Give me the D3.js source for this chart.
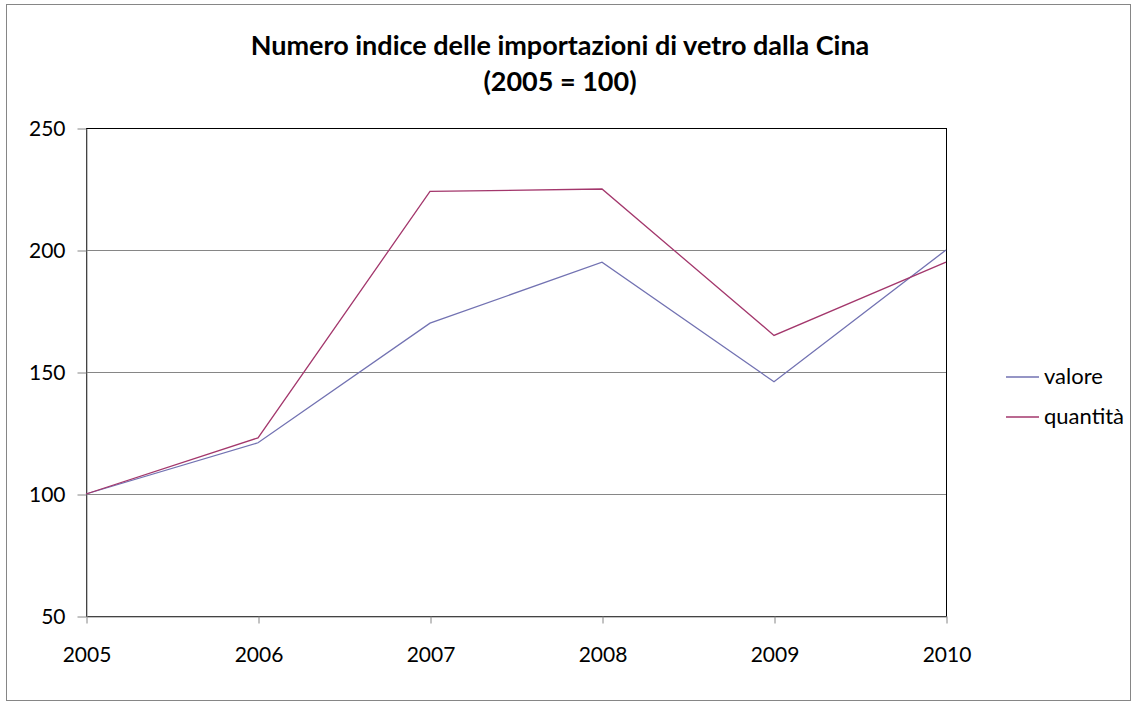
<!DOCTYPE html>
<meta charset="utf-8">
<style>
body { margin: 0; background: #fff; }
text { font-family: Lato, "Noto Sans", sans-serif; fill: #000; }
</style>
<svg width="1137" height="704"></svg>
<script src="https://d3js.org/d3.v7.min.js"></script>
<script>

var years = ["2005", "2006", "2007", "2008", "2009", "2010"];
var valore = [100, 121, 170, 195, 146, 200];
var quantita = [100, 123, 224, 225, 165, 195];
var yTicks = [50, 100, 150, 200, 250];
var seriesNames = ["valore", "quantità"];
var seriesColors = ["#7272b2", "#a3376c"];

var svg = d3.select("svg");

// chart border
svg.append("rect")
    .attr("x", 6.5).attr("y", 4.5)
    .attr("width", 1124).attr("height", 696)
    .attr("fill", "none")
    .attr("stroke", "#868686");

var plotLeft = 86, plotRight = 946, plotTop = 128, plotBottom = 616;

var x = d3.scalePoint().domain(years).range([plotLeft, plotRight]);
var y = d3.scaleLinear().domain([50, 250]).range([plotBottom, plotTop]);

// title
var title = svg.append("text")
    .attr("text-anchor", "middle")
    .style("font-weight", "bold")
    .style("font-size", "27px");
title.append("tspan").attr("x", 560).attr("y", 55).text("Numero indice delle importazioni di vetro dalla Cina");
title.append("tspan").attr("x", 560).attr("y", 91).text("(2005 = 100)");

// gridlines
svg.append("g").selectAll("line")
    .data(yTicks.slice(1))
    .enter().append("line")
    .attr("x1", plotLeft).attr("x2", plotRight)
    .attr("y1", function(d) { return Math.round(y(d)) + 0.5; })
    .attr("y2", function(d) { return Math.round(y(d)) + 0.5; })
    .attr("stroke", "#868686");

// plot area border (top and right show)
svg.append("rect")
    .attr("x", plotLeft + 0.5).attr("y", plotTop + 0.5)
    .attr("width", plotRight - plotLeft).attr("height", plotBottom - plotTop)
    .attr("fill", "none")
    .attr("stroke", "#000");

// y axis
var yAxis = svg.append("g")
    .attr("transform", "translate(" + (plotLeft + 0.5) + ",0.5)")
    .call(d3.axisLeft(y).tickValues(yTicks).tickSize(9).tickPadding(12).tickSizeOuter(0));
yAxis.select(".domain").attr("stroke", "#868686");
yAxis.selectAll(".tick line").attr("stroke", "#868686");
yAxis.selectAll("text").style("font-size", "21px").attr("fill", "#000")
    .style("font-family", "Lato, 'Noto Sans', sans-serif");

// x axis
var xAxis = svg.append("g")
    .attr("transform", "translate(0.5," + (plotBottom + 0.5) + ")")
    .call(d3.axisBottom(x).tickSize(7).tickPadding(24).tickSizeOuter(0));
xAxis.select(".domain").attr("stroke", "#868686");
xAxis.selectAll(".tick line").attr("stroke", "#868686");
xAxis.selectAll("text").style("font-size", "21px").attr("fill", "#000")
    .style("font-family", "Lato, 'Noto Sans', sans-serif");

// lines
var line = d3.line()
    .x(function(d, i) { return x(years[i]); })
    .y(function(d) { return y(d); });

[valore, quantita].forEach(function(s, i) {
  svg.append("path")
      .datum(s)
      .attr("d", line)
      .attr("fill", "none")
      .attr("stroke", seriesColors[i])
      .attr("stroke-width", 1.3);
});

// legend
var legend = svg.append("g").selectAll("g")
    .data(seriesNames)
    .enter().append("g")
    .attr("transform", function(d, i) { return "translate(1006," + (377 + i * 40) + ")"; });

legend.append("line")
    .attr("x1", 0).attr("x2", 33)
    .attr("stroke", function(d, i) { return seriesColors[i]; })
    .attr("stroke-width", 1.3);

legend.append("text")
    .attr("x", 38).attr("y", 7)
    .style("font-size", "22px")
    .text(function(d) { return d; });

</script>
